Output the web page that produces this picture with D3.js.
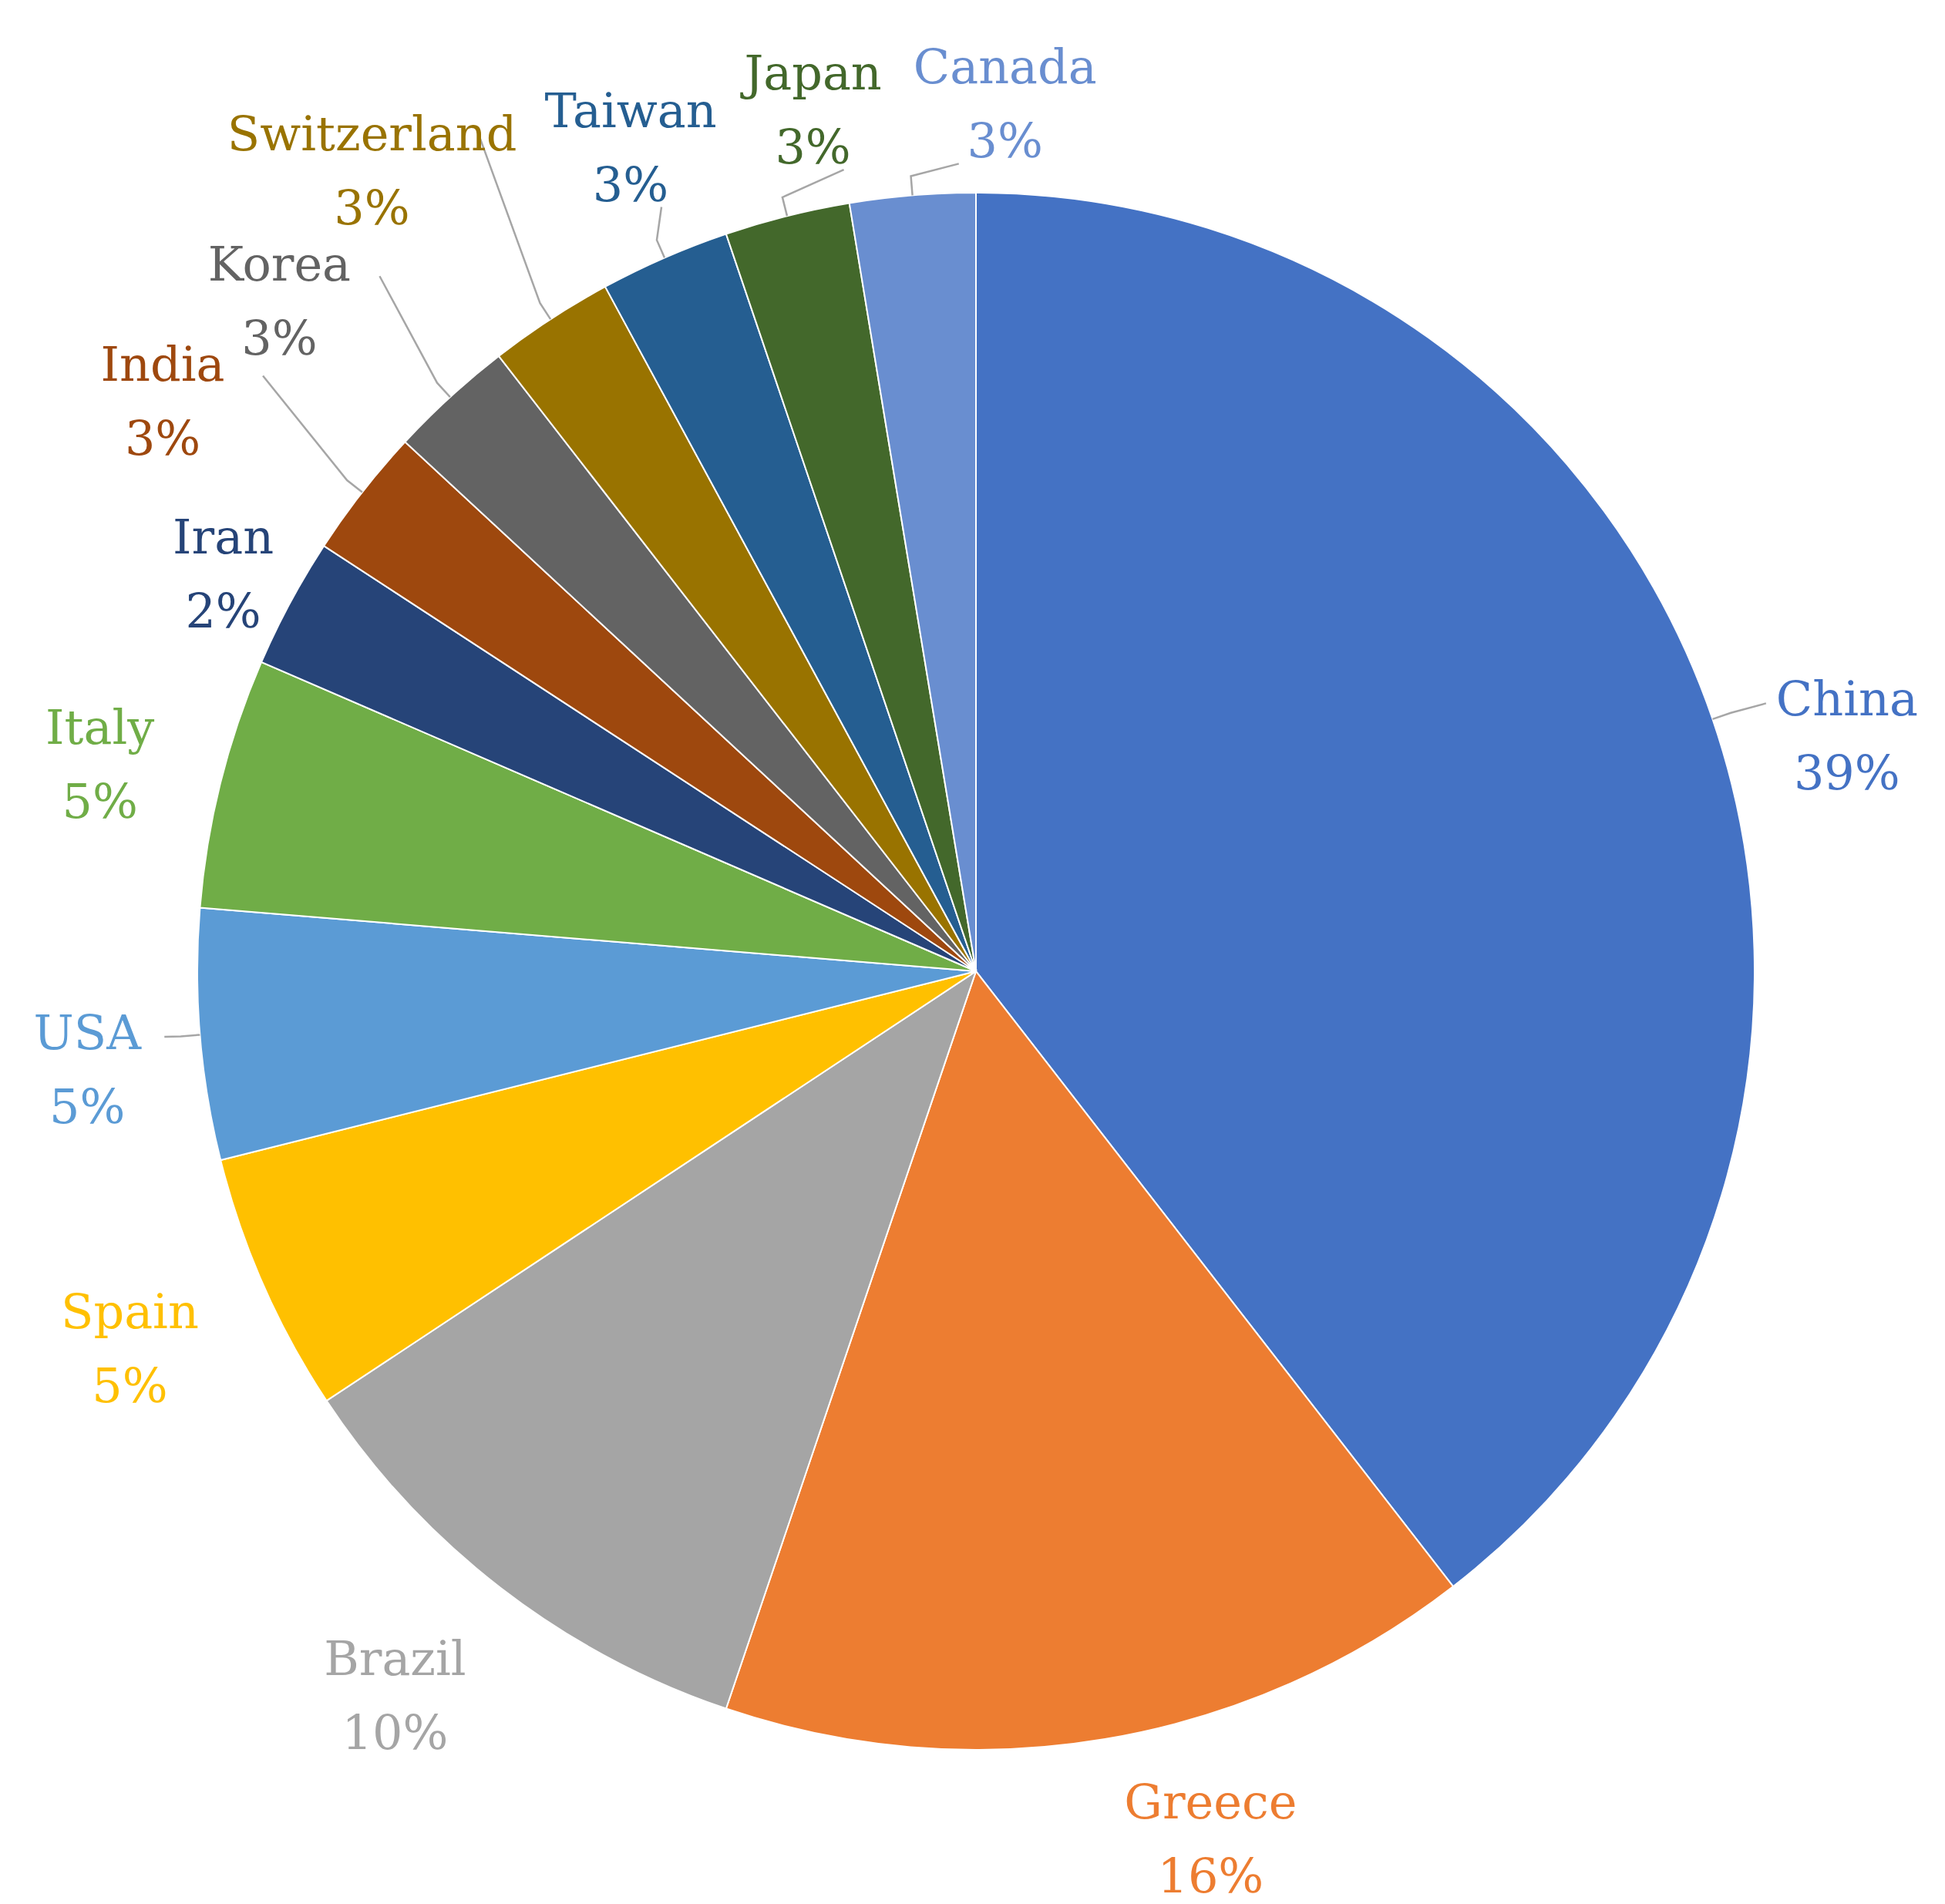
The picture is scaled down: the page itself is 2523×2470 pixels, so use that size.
<!DOCTYPE html>
<html><head><meta charset="utf-8">
<script src="https://cdn.jsdelivr.net/npm/d3@7"></script>
<style>body{margin:0;background:#fff}</style></head>
<body><svg id="c" width="2523" height="2470"></svg>
<script>
const countries = ["China","Greece","Brazil","Spain","USA","Italy","Iran","India","Korea","Switzerland","Taiwan","Japan","Canada"];
const values = [39.5,15.7,10.5,5.4,5.2,5.2,2.7,2.7,2.6,2.6,2.7,2.6,2.6];
const pctLabels = ["39%","16%","10%","5%","5%","5%","2%","3%","3%","3%","3%","3%","3%"];
const colors = ["#4472C4","#ED7D31","#A5A5A5","#FFC000","#5B9BD5","#70AD47","#264478","#9E480E","#636363","#997300","#255E91","#43682B","#698ED0"];
// label placement (angle in degrees clockwise from top, radius factor)
const labelAngle = [74.3,164.7,219.1,246.5,264.3,283.9,298.4,305.5,314.3,323.3,337.5,349.4,361.9];
const labelRad = [1.162,1.142,1.183,1.185,1.147,1.159,1.099,1.283,1.25,1.298,1.159,1.138,1.127];
const leader = [true,false,false,false,true,false,false,true,true,true,true,true,true];

const svg=d3.select("#c");
const cx=1266, cy=1260, R=1010;
const g=svg.append("g").attr("transform",`translate(${cx},${cy})`);
const pie=d3.pie().sort(null).value(d=>d)(values);
const arc=d3.arc().innerRadius(0).outerRadius(R);
g.selectAll("path").data(pie).join("path").attr("d",arc)
 .attr("fill",(d,i)=>colors[i]).attr("stroke","#fff").attr("stroke-width",2);
const pt=(a,r)=>[Math.sin(a)*r,-Math.cos(a)*r];
pie.forEach((d,i)=>{
  const a=labelAngle[i]*Math.PI/180, r=labelRad[i]*R;
  const [x,y]=pt(a,r);
  if(leader[i]){
    const mid=(d.startAngle+d.endAngle)/2;
    const p0=pt(mid,R), p1=pt(mid,R+25);
    let end;
    if(i===0) end=[x-105,y-30];
    else if(i===4) end=[x+100,y-30];
    else if(i>=10) end=[x+ (i===12? -60: 40), y+90];
    else end=[x+ (i===9?140:130), y+ (i===9?-30:-20)];
    g.append("polyline").attr("points",[p0,p1,end].map(p=>p.join(",")).join(" "))
     .attr("fill","none").attr("stroke","#a6a6a6").attr("stroke-width",2.5);
  }
  const t=g.append("text").attr("text-anchor","middle").attr("fill",colors[i])
   .attr("font-family","'DejaVu Serif','Liberation Serif',serif").attr("font-size",62);
  t.append("tspan").attr("x",x).attr("y",y-14).text(countries[i]);
  t.append("tspan").attr("x",x).attr("y",y+82).text(pctLabels[i]);
});
</script></body></html>
